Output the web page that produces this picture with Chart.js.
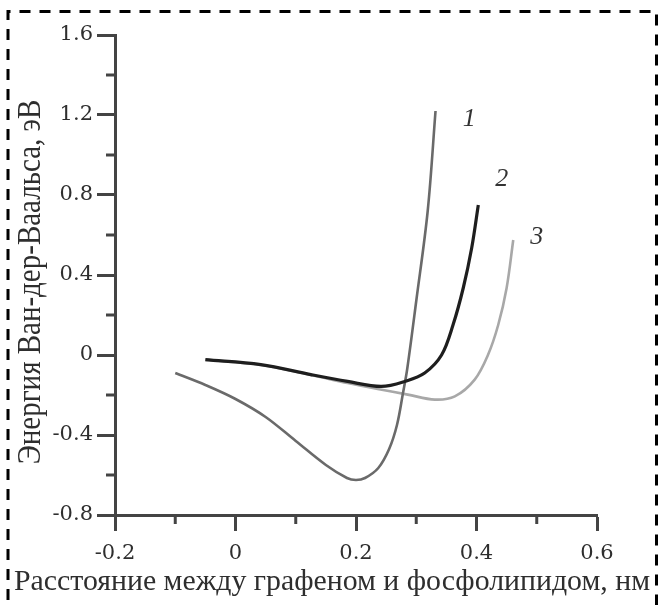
<!DOCTYPE html>
<html>
<head>
<meta charset="utf-8">
<script src="https://cdn.jsdelivr.net/npm/chart.js@4/dist/chart.umd.min.js"></script>
<style>
html,body{margin:0;padding:0;background:#fff;}
#wrap{width:658px;height:605px;position:relative;}
</style>
</head>
<body>
<div id="wrap"><canvas id="c" width="658" height="605"></canvas></div>
<script>
// ---- data ----
const curve1X = [-0.1, -0.05, 0.0, 0.05, 0.1, 0.15, 0.185, 0.2, 0.215, 0.237, 0.255, 0.268, 0.278, 0.285, 0.30, 0.319, 0.332];
const curve1Y = [-0.09, -0.15, -0.22, -0.31, -0.43, -0.55, -0.615, -0.625, -0.615, -0.565, -0.47, -0.35, -0.19, -0.07, 0.27, 0.72, 1.22];

const curve2X = [-0.05, 0.042, 0.125, 0.186, 0.242, 0.283, 0.314, 0.342, 0.361, 0.378, 0.392, 0.403];
const curve2Y = [-0.023, -0.048, -0.098, -0.132, -0.157, -0.13, -0.09, 0.0, 0.15, 0.335, 0.535, 0.75];

const curve3X = [-0.05, 0.042, 0.125, 0.186, 0.236, 0.286, 0.331, 0.364, 0.397, 0.419, 0.436, 0.45, 0.461];
const curve3Y = [-0.025, -0.05, -0.1, -0.14, -0.17, -0.198, -0.223, -0.207, -0.123, 0.0, 0.15, 0.335, 0.575];

const curveNames = ['1', '2', '3'];
// label anchor (data coords) for the curve numbers
const labelX = [0.388, 0.442, 0.5];
const labelY = [1.18, 0.88, 0.59];

const xTitle = 'Расстояние между графеном и фосфолипидом, нм';
const yTitle = 'Энергия Ван-дер-Ваальса, эВ';

const xMin = -0.2, xMax = 0.6, xStep = 0.1;
const yMin = -0.8, yMax = 1.6, yStep = 0.2;

function pts(xs, ys){ return xs.map((x,i)=>({x:x, y:ys[i]})); }

const AXIS_COLOR = '#444';
const TEXT_COLOR = '#2e2e2e';
const SERIF = '"Liberation Serif", "DejaVu Serif", serif';
const WIDE_SERIF = '"DejaVu Serif", "Liberation Serif", serif';

function isMajorX(v){ return Math.abs(Math.round(v*10)) % 2 === 0; }
function isMajorY(v){ return Math.abs(Math.round(v*10)) % 4 === 0; }
function fmt(v){ const r = Math.round(v*10)/10; return r === 0 ? '0' : String(r); }

const decorPlugin = {
  id: 'decor',
  beforeDraw(chart){
    const ctx = chart.ctx;
    ctx.save();
    ctx.fillStyle = '#fff';
    ctx.fillRect(0,0,chart.width,chart.height);
    // dashed frame
    ctx.strokeStyle = '#000';
    ctx.lineWidth = 3;
    ctx.setLineDash([11, 9]);
    ctx.beginPath();
    ctx.moveTo(8, 640); ctx.lineTo(8, 11.5); ctx.lineTo(656.5, 11.5); ctx.lineTo(656.5, 640);
    ctx.stroke();
    ctx.restore();
  },
  afterDraw(chart){
    const ctx = chart.ctx;
    const xs = chart.scales.x, ys = chart.scales.y;
    ctx.save();
    ctx.strokeStyle = AXIS_COLOR;
    ctx.lineWidth = 3;
    // minor ticks
    xs.ticks.forEach(t => {
      if (!isMajorX(t.value)) {
        const px = xs.getPixelForValue(t.value);
        ctx.beginPath(); ctx.moveTo(px, xs.top); ctx.lineTo(px, xs.top + 9); ctx.stroke();
      }
    });
    ys.ticks.forEach(t => {
      if (!isMajorY(t.value)) {
        const py = ys.getPixelForValue(t.value);
        ctx.beginPath(); ctx.moveTo(ys.right, py); ctx.lineTo(ys.right - 9, py); ctx.stroke();
      }
    });
    // curve numbers
    ctx.fillStyle = '#333';
    ctx.font = 'italic 26px ' + SERIF;
    ctx.textAlign = 'center';
    ctx.textBaseline = 'middle';
    curveNames.forEach((n,i) => {
      ctx.fillText(n, xs.getPixelForValue(labelX[i]), ys.getPixelForValue(labelY[i]));
    });

    // axis titles (the source figure is horizontally stretched)
    ctx.fillStyle = TEXT_COLOR;
    ctx.font = '29px ' + SERIF;
    const w = ctx.measureText(xTitle).width;
    const targetW = 636;
    ctx.save();
    ctx.translate(332, 582);
    ctx.scale(targetW / w, 1);
    ctx.fillText(xTitle, 0, 0);
    ctx.restore();

    ctx.save();
    ctx.translate(31, 282);
    ctx.rotate(-Math.PI / 2);
    ctx.scale(1, 1.15);
    ctx.font = '29px ' + SERIF;
    ctx.fillText(yTitle, 0, 0);
    ctx.restore();

    ctx.restore();
  }
};

new Chart(document.getElementById('c'), {
  type: 'line',
  data: {
    datasets: [
      { label: curveNames[1], data: pts(curve2X, curve2Y), borderColor: '#1e1e1e', borderWidth: 3.2 },
      { label: curveNames[0], data: pts(curve1X, curve1Y), borderColor: '#6a6a6a', borderWidth: 2.6 },
      { label: curveNames[2], data: pts(curve3X, curve3Y), borderColor: '#a8a8a8', borderWidth: 2.6 }
    ]
  },
  options: {
    responsive: false,
    animation: false,
    devicePixelRatio: 1,
    elements: {
      point: { radius: 0, hoverRadius: 0 },
      line: { tension: 0.35, fill: false, capBezierPoints: true }
    },
    layout: { padding: { left: 12, right: 61, top: 35, bottom: 0 } },
    plugins: { legend: { display: false }, tooltip: { enabled: false } },
    scales: {
      x: {
        type: 'linear', min: xMin, max: xMax,
        border: { display: true, color: AXIS_COLOR, width: 3 },
        grid: { drawOnChartArea: false, drawTicks: true, tickLength: 16, tickWidth: 3,
                tickColor: c => (c.tick && isMajorX(c.tick.value)) ? AXIS_COLOR : 'rgba(0,0,0,0)' },
        ticks: { stepSize: xStep, autoSkip: false, maxRotation: 0, padding: 10,
                 color: TEXT_COLOR, font: { family: WIDE_SERIF, size: 21 },
                 callback: v => isMajorX(v) ? fmt(v) : '' },
        title: { display: false, text: xTitle },
        afterFit: s => { s.height = 90; }
      },
      y: {
        type: 'linear', min: yMin, max: yMax,
        border: { display: true, color: AXIS_COLOR, width: 3 },
        grid: { drawOnChartArea: false, drawTicks: true, tickLength: 18, tickWidth: 3,
                tickColor: c => (c.tick && isMajorY(c.tick.value)) ? AXIS_COLOR : 'rgba(0,0,0,0)' },
        ticks: { stepSize: yStep, autoSkip: false, padding: 4,
                 color: TEXT_COLOR, font: { family: WIDE_SERIF, size: 21 },
                 callback: v => isMajorY(v) ? fmt(v) : '' },
        title: { display: false, text: yTitle },
        afterFit: s => { s.width = 103; }
      }
    }
  },
  plugins: [decorPlugin]
});
</script>
</body>
</html>
